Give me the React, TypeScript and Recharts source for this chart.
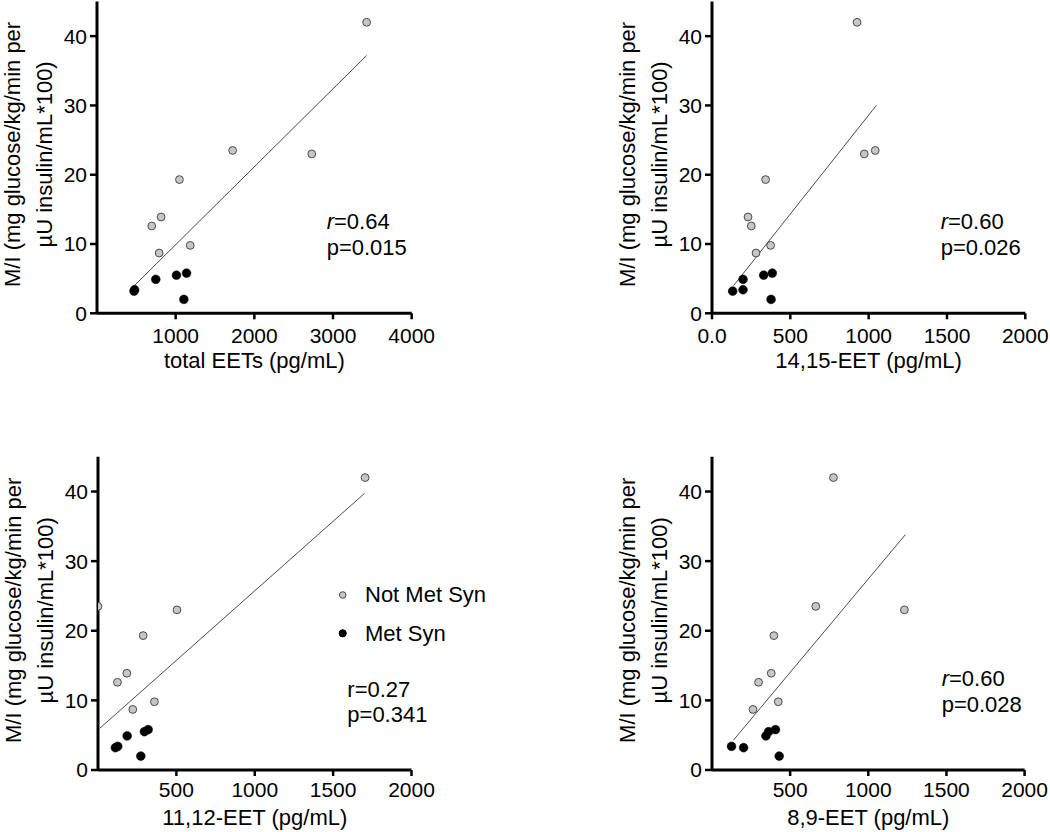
import React from 'react';
import { ScatterChart, Scatter, XAxis, YAxis, ReferenceLine, Legend, Label } from 'recharts';

const FONT = '"Liberation Sans", Arial, Helvetica, sans-serif';

// M/I values (mg glucose/kg/min per µU insulin/mL*100)
const miNotMetSyn = [42.0, 23.0, 23.5, 19.3, 13.9, 12.6, 8.7, 9.8];
const miMetSyn = [3.2, 3.4, 4.9, 5.5, 5.8, 2.0];

// x values per panel (pg/mL), aligned with the M/I arrays
const totalEETsNotMetSyn = [3427, 2730, 1724, 1048, 815, 696, 790, 1185];
const totalEETsMetSyn = [470, 478, 747, 1010, 1138, 1104];
const eet1415NotMetSyn = [926, 972, 1042, 342, 230, 251, 281, 374];
const eet1415MetSyn = [132, 198, 198, 330, 385, 377];
const eet1112NotMetSyn = [1704, 504, 0, 288, 184, 124, 222, 360];
const eet1112MetSyn = [111, 126, 186, 296, 320, 273];
const eet89NotMetSyn = [777, 1231, 664, 396, 379, 298, 262, 424];
const eet89MetSyn = [202, 125, 345, 362, 406, 430];

// regression line end points [x1, y1, x2, y2]
const fitTotal = [475, 4.0, 3427, 37.2];
const fit1415 = [138, 4.0, 1049, 30.0];
const fit1112 = [12, 6.0, 1699, 39.7];
const fit89 = [138, 4.3, 1237, 33.8];

const yTicks = [0, 10, 20, 30, 40];
const xTicksTotal = [1000, 2000, 3000, 4000];
const xTicks1415 = [0, 500, 1000, 1500, 2000];
const xTicks1112 = [500, 1000, 1500, 2000];
const xTicks89 = [500, 1000, 1500, 2000];

const seriesNames = ['Not Met Syn', 'Met Syn'];
const yLabelLines = ['M/I (mg glucose/kg/min per', 'µU insulin/mL*100)'];

const toPoints = (xs: number[], ys: number[]) => xs.map((x, i) => ({ x, y: ys[i] }));

type PanelDef = {
  key: string;
  xLabel: string;
  xMax: number;
  xTicks: number[];
  notMet: number[];
  met: number[];
  fit: number[];
  plotLeft: number;
  plotRight: number;
  plotTop: number;
  plotBottom: number;
  rowTop: number;
  tickGap: number;
  zeroLabel?: string;
  legend?: boolean;
};

const panels: PanelDef[] = [
  { key: 'total', xLabel: 'total EETs (pg/mL)', xMax: 4000, xTicks: xTicksTotal, notMet: totalEETsNotMetSyn, met: totalEETsMetSyn, fit: fitTotal, plotLeft: 97, plotRight: 411.7, plotTop: 1.5, plotBottom: 313.3, rowTop: 0, tickGap: 29.4 },
  { key: '1415', xLabel: '14,15-EET (pg/mL)', xMax: 2000, xTicks: xTicks1415, notMet: eet1415NotMetSyn, met: eet1415MetSyn, fit: fit1415, plotLeft: 711.7, plotRight: 1025, plotTop: 1.5, plotBottom: 313.3, rowTop: 0, tickGap: 29.4, zeroLabel: '0.0' },
  { key: '1112', xLabel: '11,12-EET (pg/mL)', xMax: 2000, xTicks: xTicks1112, notMet: eet1112NotMetSyn, met: eet1112MetSyn, fit: fit1112, plotLeft: 97.5, plotRight: 411, plotTop: 456.7, plotBottom: 770, rowTop: 440, tickGap: 26.7, legend: true },
  { key: '89', xLabel: '8,9-EET (pg/mL)', xMax: 2000, xTicks: xTicks89, notMet: eet89NotMetSyn, met: eet89MetSyn, fit: fit89, plotLeft: 711.7, plotRight: 1024.3, plotTop: 456.7, plotBottom: 770, rowTop: 440, tickGap: 26.7 },
];

const annotations = [
  { r: '0.64', p: '0.015', italic: true, x: 326.7, y1: 229.3, y2: 255 },
  { r: '0.60', p: '0.026', italic: true, x: 940.7, y1: 228.8, y2: 255 },
  { r: '0.27', p: '0.341', italic: false, x: 347.3, y1: 696.7, y2: 721.7 },
  { r: '0.60', p: '0.028', italic: true, x: 941.7, y1: 686, y2: 711.7 },
];

const GRAY_FILL = '#c6c6c6';
const GRAY_STROKE = '#4a4a4a';
const TICK_FONT = 21;

const GrayDot = (props: any) => {
  const { cx, cy } = props;
  if (cx == null || cy == null) return null;
  return <circle cx={cx} cy={cy} r={3.9} fill={GRAY_FILL} stroke={GRAY_STROKE} strokeWidth={1} />;
};
const BlackDot = (props: any) => {
  const { cx, cy } = props;
  if (cx == null || cy == null) return null;
  return <circle cx={cx} cy={cy} r={4.4} fill="#000" stroke="#000" strokeWidth={0.5} />;
};

const AXIS_W = 97;
const X_AXIS_H = 62;
const MARGIN_R = 30;

function Panel({ p }: { p: PanelDef }) {
  const chartLeft = p.plotLeft - AXIS_W;
  const chartTop = p.rowTop;
  const marginTop = p.plotTop - chartTop;
  const width = p.plotRight - chartLeft + MARGIN_R;
  const height = p.plotBottom - chartTop + X_AXIS_H;
  const relAxisX = AXIS_W;
  const relBottom = p.plotBottom - chartTop;
  const relCenterY = (marginTop + relBottom) / 2 - 3;
  const relCenterX = (AXIS_W + (p.plotRight - chartLeft)) / 2;

  const notMetData = toPoints(p.notMet, miNotMetSyn);
  const metData = toPoints(p.met, miMetSyn);
  const seg = [
    { x: p.fit[0], y: p.fit[1] },
    { x: p.fit[2], y: p.fit[3] },
  ];

  const fmtX = (v: number) => (v === 0 && p.zeroLabel ? p.zeroLabel : String(v));

  const tickStyle = { fontSize: `${TICK_FONT}px`, fontFamily: FONT };

  const renderXTick = (tp: any) => {
    const v = tp.payload ? tp.payload.value : 0;
    return (
      <text x={tp.x} y={relBottom + p.tickGap} textAnchor="middle" fontSize={TICK_FONT} fontFamily={FONT} fill="#000" style={tickStyle}>
        {fmtX(v)}
      </text>
    );
  };

  const renderYTick = (tp: any) => {
    const v = tp.payload ? tp.payload.value : 0;
    return (
      <text x={relAxisX - 10} y={tp.y + 7.4} textAnchor="end" fontSize={TICK_FONT} fontFamily={FONT} fill="#000" style={tickStyle}>
        {String(v)}
      </text>
    );
  };

  const renderYLabel = () => {
    const x1 = relAxisX - 77;
    const x2 = relAxisX - 45;
    return (
      <g>
        <text x={x1} y={relCenterY} transform={`rotate(-90, ${x1}, ${relCenterY})`} textAnchor="middle" fontSize={22} fontFamily={FONT} fill="#000">
          {yLabelLines[0]}
        </text>
        <text x={x2} y={relCenterY} transform={`rotate(-90, ${x2}, ${relCenterY})`} textAnchor="middle" fontSize={22} fontFamily={FONT} fill="#000">
          {yLabelLines[1]}
        </text>
      </g>
    );
  };

  const renderXLabel = () => (
    <text x={relCenterX} y={relBottom + 55} textAnchor="middle" fontSize={22} fontFamily={FONT} fill="#000">
      {p.xLabel}
    </text>
  );

  const renderLegend = (lp: any) => {
    const raw = (lp && lp.payload) || [];
    const payload = [...raw].sort(
      (a: any, b: any) => seriesNames.indexOf(String(a.value)) - seriesNames.indexOf(String(b.value))
    );
    return (
      <svg width={180} height={72} style={{ display: 'block' }}>
        {payload.map((entry: any, i: number) => {
          const isMet = entry.value === seriesNames[1];
          const cy = 17 + i * 38.3;
          return (
            <g key={String(entry.value)}>
              <circle cx={12.7} cy={cy} r={isMet ? 3.6 : 3.3} fill={isMet ? '#000' : GRAY_FILL} stroke={isMet ? '#000' : GRAY_STROKE} strokeWidth={1} />
              <text x={35} y={cy + 7.3} fontSize={22} fontFamily={FONT} fill="#000">
                {entry.value}
              </text>
            </g>
          );
        })}
      </svg>
    );
  };

  return (
    <div style={{ position: 'absolute', left: chartLeft, top: chartTop }}>
      <ScatterChart width={width} height={height} margin={{ top: marginTop, right: MARGIN_R, bottom: 0, left: 0 }}>
        <XAxis
          type="number"
          dataKey="x"
          domain={[0, p.xMax]}
          ticks={p.xTicks}
          interval={0}
          allowDataOverflow
          height={X_AXIS_H}
          axisLine={{ stroke: '#000', strokeWidth: 3 }}
          tickLine={{ stroke: '#000', strokeWidth: 2.5 }}
          tickSize={6}
          tickMargin={8}
          fontSize={TICK_FONT}
          tick={renderXTick}
        >
          <Label content={renderXLabel} />
        </XAxis>
        <YAxis
          type="number"
          dataKey="y"
          domain={[0, 45]}
          ticks={yTicks}
          interval={0}
          allowDataOverflow
          width={AXIS_W}
          axisLine={{ stroke: '#000', strokeWidth: 3 }}
          tickLine={{ stroke: '#000', strokeWidth: 2.5 }}
          tickSize={7}
          tickMargin={3}
          fontSize={TICK_FONT}
          tick={renderYTick}
        >
          <Label content={renderYLabel} />
        </YAxis>
        <ReferenceLine segment={seg} stroke="#4a4a4a" strokeWidth={1} ifOverflow="visible" />
        <Scatter name={seriesNames[0]} data={notMetData} shape={GrayDot} fill={GRAY_FILL} isAnimationActive={false} />
        <Scatter name={seriesNames[1]} data={metData} shape={BlackDot} fill="#000" isAnimationActive={false} />
        {p.legend ? (
          <Legend
            layout="vertical"
            align="center"
            verticalAlign="middle"
            content={renderLegend}
            wrapperStyle={{ left: 330 - chartLeft, top: 578 - chartTop, width: 180, height: 72 }}
          />
        ) : null}
      </ScatterChart>
    </div>
  );
}

export default function App() {
  return (
    <div
      style={{
        position: 'absolute',
        left: 0,
        top: 0,
        width: 1050,
        height: 832,
        background: '#fff',
        overflow: 'hidden',
        fontFamily: FONT,
      }}
    >
      {panels.map((p) => (
        <Panel key={p.key} p={p} />
      ))}
      <svg width={1050} height={832} style={{ position: 'absolute', left: 0, top: 0, pointerEvents: 'none' }}>
        {annotations.map((a, i) => (
          <g key={i} fontFamily={FONT} fontSize={22} fill="#000">
            <text x={a.x} y={a.y1}>
              <tspan fontStyle={a.italic ? 'italic' : 'normal'}>r</tspan>
              <tspan>{`=${a.r}`}</tspan>
            </text>
            <text x={a.x} y={a.y2}>{`p=${a.p}`}</text>
          </g>
        ))}
      </svg>
    </div>
  );
}
